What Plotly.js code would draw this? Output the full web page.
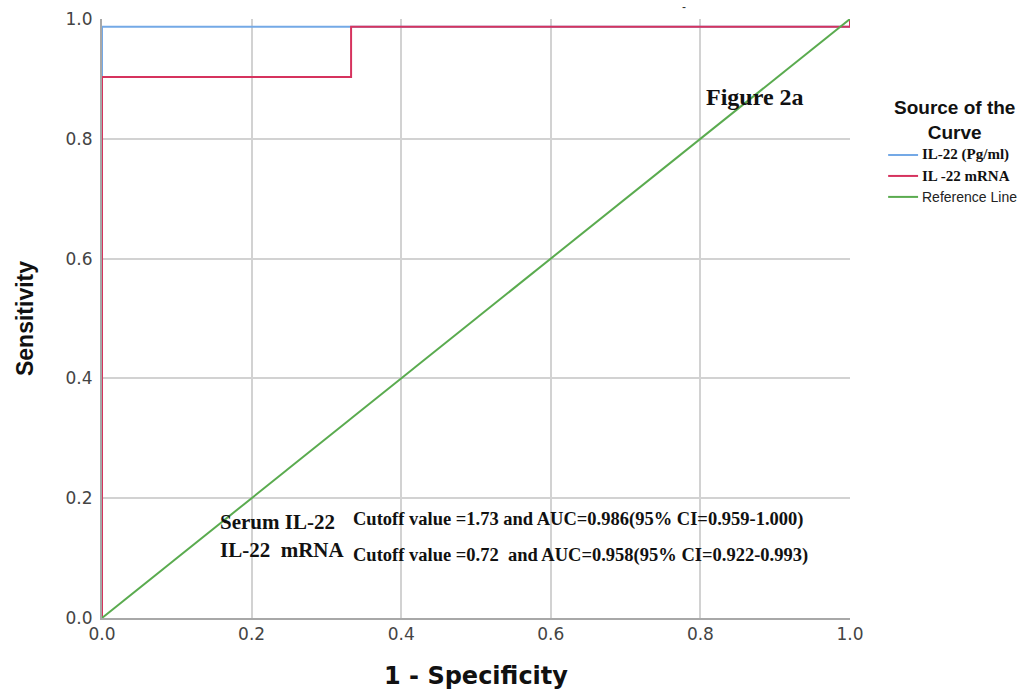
<!DOCTYPE html>
<html><head><meta charset="utf-8">
<script src="https://cdn.plot.ly/plotly-3.0.1.min.js"></script>
<style>html,body{margin:0;padding:0;background:#fff}#c{width:1024px;height:690px}</style>
</head><body><div id="c"></div>
<script>
// ROC data
const serumX = [0, 0, 1, 1];
const serumY = [0, 0.987, 0.987, 1];
const mrnaX = [0, 0, 0.333, 0.333, 1, 1];
const mrnaY = [0, 0.903, 0.903, 0.987, 0.987, 1];
const refX = [0, 1];
const refY = [0, 1];
const tickVals = [0, 0.2, 0.4, 0.6, 0.8, 1.0];
const tickText = ['0.0', '0.2', '0.4', '0.6', '0.8', '1.0'];
const seriesNames = ['IL-22 (Pg/ml)', 'IL -22 mRNA', 'Reference Line'];
const seriesColors = ['#74a9e6', '#d6335e', '#5aab4f'];

const serif = 'Liberation Serif, Times New Roman, serif';
const sans = 'Liberation Sans, Arial, sans-serif';
const wide = 'DejaVu Sans, Liberation Sans, sans-serif';

const traces = [
  {x: serumX, y: serumY, mode: 'lines', line: {color: seriesColors[0], width: 2}, name: seriesNames[0]},
  {x: mrnaX, y: mrnaY, mode: 'lines', line: {color: seriesColors[1], width: 2}, name: seriesNames[1]},
  {x: refX, y: refY, mode: 'lines', line: {color: seriesColors[2], width: 2}, name: seriesNames[2]}
];

// manual legend (paper coords)
const legX0 = 1.051, legX1 = 1.091, legTextX = 1.093;
const legY = [0.773, 0.738, 0.703];
const legFonts = [
  {family: serif, size: 15, color: '#111', weight: 'bold'},
  {family: serif, size: 15, color: '#111', weight: 'bold'},
  {family: sans, size: 14, color: '#222'}
];
const shapes = [];
const annotations = [];
for (let i = 0; i < seriesNames.length; i++) {
  shapes.push({type: 'line', xref: 'paper', yref: 'paper', x0: legX0, x1: legX1, y0: legY[i], y1: legY[i],
               line: {color: seriesColors[i], width: 2}});
  annotations.push({xref: 'paper', yref: 'paper', x: legTextX, y: legY[i], xanchor: 'left', yanchor: 'middle',
                    showarrow: false, text: i < 2 ? '<b>' + seriesNames[i] + '</b>' : seriesNames[i], font: legFonts[i]});
}
annotations.push({xref: 'paper', yref: 'paper', x: 1.14, y: 0.832, xanchor: 'center', yanchor: 'middle', showarrow: false,
  text: '<b>Source of the<br>Curve</b>', align: 'center', font: {family: sans, size: 19, color: '#111'}});

annotations.push(
  {xref: 'x', yref: 'y', x: 0.873, y: 0.870, xanchor: 'center', yanchor: 'middle', showarrow: false,
   text: '<b>Figure 2a</b>', font: {family: serif, size: 24, color: '#111'}},
  {xref: 'x', yref: 'y', x: 0.155, y: 0.160, xanchor: 'left', yanchor: 'middle', showarrow: false,
   text: '<b>Serum IL-22</b>', font: {family: serif, size: 21, color: '#111'}},
  {xref: 'x', yref: 'y', x: 0.155, y: 0.1135, xanchor: 'left', yanchor: 'middle', showarrow: false,
   text: '<b>IL-22  mRNA</b>', font: {family: serif, size: 21, color: '#111'}},
  {xref: 'x', yref: 'y', x: 0.333, y: 0.164, xanchor: 'left', yanchor: 'middle', showarrow: false,
   text: '<b>Cutoff value =1.73 and AUC=0.986(95% CI=0.959-1.000)</b>', font: {family: serif, size: 18.5, color: '#111'}},
  {xref: 'x', yref: 'y', x: 0.333, y: 0.105, xanchor: 'left', yanchor: 'middle', showarrow: false,
   text: '<b>Cutoff value =0.72  and AUC=0.958(95% CI=0.922-0.993)</b>', font: {family: serif, size: 18.5, color: '#111'}},
  {xref: 'x', yref: 'paper', x: 0.778, y: 1.0, xanchor: 'center', yanchor: 'bottom', yshift: 3, showarrow: false,
   text: '-', font: {family: sans, size: 12, color: '#333'}}
);

const layout = {
  width: 1024, height: 690,
  margin: {l: 102, r: 174, t: 19, b: 72},
  paper_bgcolor: '#fff', plot_bgcolor: '#fff',
  showlegend: false,
  xaxis: {
    range: [0, 1], tickvals: tickVals, ticktext: tickText,
    showgrid: true, gridcolor: '#d2d2d2', gridwidth: 2,
    showline: true, linecolor: '#a8a8a8', linewidth: 2, zeroline: false,
    ticks: '', tickfont: {family: wide, size: 17, color: '#444'},
    title: {text: '<b>1 - Specificity</b>', font: {family: wide, size: 24, color: '#111'}, standoff: 26}
  },
  yaxis: {
    range: [0, 1], tickvals: tickVals, ticktext: tickText,
    showgrid: true, gridcolor: '#d2d2d2', gridwidth: 2,
    showline: true, linecolor: '#a8a8a8', linewidth: 2, zeroline: false,
    ticks: '', ticklabelstandoff: 4, tickfont: {family: wide, size: 17, color: '#444'},
    title: {text: '<b>Sensitivity</b>', font: {family: sans, size: 23, color: '#111'}, standoff: 26}
  },
  shapes: shapes,
  annotations: annotations
};

Plotly.newPlot('c', traces, layout, {displayModeBar: false, staticPlot: true});
</script></body></html>
